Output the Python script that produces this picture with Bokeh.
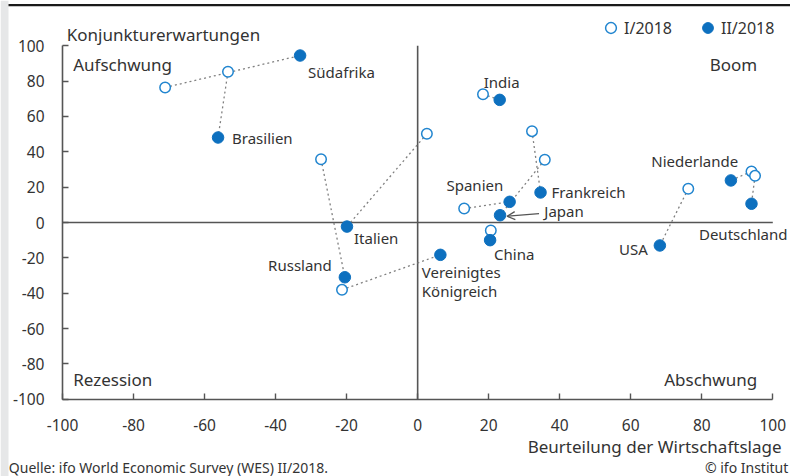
from bokeh.plotting import figure
from bokeh.models import (Label, Arrow, OpenHead, Legend, LegendItem, FixedTicker,
                          BoxAnnotation)
from bokeh.embed import file_html
from bokeh.resources import INLINE

# ---------------- data ----------------
countries = ["Südafrika", "Brasilien", "Russland", "Italien", "Vereinigtes Königreich",
             "India", "Frankreich", "Japan", "Spanien", "China", "USA",
             "Niederlande", "Deutschland"]
# I/2018
x_2018_1 = [-71.1, -53.4, -27.2, 2.6, -21.3, 18.4, 32.2, 35.8, 13.1, 20.6, 76.2, 94.0, 95.0]
y_2018_1 = [76.4, 85.3, 35.8, 50.2, -38.1, 72.6, 51.7, 35.5, 7.9, -4.5, 19.1, 28.9, 26.4]
# II/2018
x_2018_2 = [-33.1, -56.2, -20.5, -19.9, 6.4, 23.1, 34.6, 23.2, 25.9, 20.4, 68.2, 88.2, 94.0]
y_2018_2 = [94.5, 48.1, -31.0, -2.3, -18.3, 69.4, 17.0, 4.1, 11.7, -10.0, -13.0, 23.8, 10.6]

ticks = [-100, -80, -60, -40, -20, 0, 20, 40, 60, 80, 100]
series_labels = ["I/2018", "II/2018"]
x_title = "Beurteilung der Wirtschaftslage"
y_title = "Konjunkturerwartungen"
quadrants = ["Aufschwung", "Boom", "Rezession", "Abschwung"]
source_text = "Quelle: ifo World Economic Survey (WES) II/2018."
copyright_text = "© ifo Institut"

# ---------------- styles ----------------
FONT = "Noto Sans"
TXT = "#333333"
AX = "#555555"
BLUE_FILL = "#0d70bf"
BLUE_LINE = "#2185cf"
STRIP = "#e6e7e8"

# label placement relative to II/2018 point: (align, dx px, dy px up)
label_style = {
    "Südafrika": ("left", 8, -16),
    "Brasilien": ("left", 14, 0),
    "Russland": ("right", -13, 12),
    "Italien": ("left", 7, -11),
    "Vereinigtes Königreich": ("left", -18.6, -16.7),
    "India": ("center", 2, 18),
    "Frankreich": ("left", 11, 0),
    "Japan": ("left", 44.3, 4.4),
    "Spanien": ("right", -6.4, 17.3),
    "China": ("left", 4, -13.6),
    "USA": ("right", -12, -4),
    "Niederlande": ("right", 7.3, 19),
    "Deutschland": ("right", 36, -30),
}

W, H = 790, 476
# pixel geometry of the -100..100 box inside the canvas
LEFT, RIGHT, TOP, BOTTOM = 62.0, 772.3, 45.3, 398.7
span = ticks[-1] - ticks[0]
ux = span / (RIGHT - LEFT)
uy = span / (BOTTOM - TOP)
x_start = ticks[0] - LEFT * ux
x_end = ticks[-1] + (W - RIGHT) * ux
y_start = ticks[0] - (H - BOTTOM) * uy
y_end = ticks[-1] + TOP * uy

p = figure(width=W, height=H, x_range=(x_start, x_end), y_range=(y_start, y_end),
           output_backend="svg", toolbar_location=None, title=None, min_border=0)
p.grid.visible = False
p.outline_line_color = None

# left grey strip and top rule (page decoration)
p.add_layout(BoxAnnotation(left=x_start, right=x_start + 8 * ux, fill_color=STRIP,
                           fill_alpha=1, line_color=None, level="underlay"))
p.add_layout(BoxAnnotation(left=x_start + 8 * ux, top=y_end - 3.6 * uy,
                           bottom=y_end - 5.8 * uy, fill_color="#1a1a1a",
                           fill_alpha=1, line_color=None))

for ax in (p.xaxis[0], p.yaxis[0]):
    ax.fixed_location = ticks[0]
    ax.ticker = FixedTicker(ticks=ticks)
    ax.bounds = (ticks[0], ticks[-1])
    ax.major_label_overrides = {t: str(t) for t in ticks}
    ax.major_tick_in = 6
    ax.major_tick_out = 0
    ax.minor_tick_line_color = None
    ax.axis_line_color = AX
    ax.axis_line_width = 1.6
    ax.major_tick_line_color = AX
    ax.major_tick_line_width = 1.4
    ax.major_label_text_font = FONT
    ax.major_label_text_font_size = "15.5px"
    ax.major_label_text_color = TXT
p.xaxis[0].major_label_standoff = 20
p.yaxis[0].major_label_standoff = 18

# zero lines
p.segment(x0=[ticks[0], 0], y0=[0, ticks[0]], x1=[ticks[-1], 0], y1=[0, ticks[-1]],
          line_color=AX, line_width=1.6)

# connecting dotted lines
p.segment(x0=x_2018_1, y0=y_2018_1, x1=x_2018_2, y1=y_2018_2,
          line_color="#808080", line_width=1.3, line_dash="2 3")

r1 = p.scatter(x=x_2018_1, y=y_2018_1, size=10.5, marker="circle",
               fill_color="white", line_color=BLUE_LINE, line_width=1.5)
r2 = p.scatter(x=x_2018_2, y=y_2018_2, size=11.5, marker="circle",
               fill_color=BLUE_FILL, line_color=BLUE_FILL, line_width=1)


def lab(x, y, text, align="left", dx=0, dy=0, size="15px"):
    p.add_layout(Label(x=x, y=y, x_offset=dx, y_offset=dy, text=text,
                       text_align=align, text_baseline="middle",
                       text_font=FONT, text_font_size=size, text_color=TXT))


# country labels
for name, xv, yv in zip(countries, x_2018_2, y_2018_2):
    align, dx, dy = label_style[name]
    if name == "Vereinigtes Königreich":
        for i, part in enumerate(name.split(" ")):
            lab(xv, yv, part, align, dx, dy - 19.7 * i)
    else:
        lab(xv, yv, name, align, dx, dy)

# Japan arrow
ji = countries.index("Japan")
p.add_layout(Arrow(end=OpenHead(size=8, line_color=AX, line_width=1.3),
                   x_start=x_2018_2[ji] + 39 * ux, y_start=y_2018_2[ji] + 1.7 * uy,
                   x_end=x_2018_2[ji] + 7 * ux, y_end=y_2018_2[ji] - 1.0 * uy,
                   line_color=AX, line_width=1.3))

# quadrant labels
qpos = [(ticks[0], ticks[-1], "left", 10.7, -19), (ticks[-1], ticks[-1], "right", -15.6, -19),
        (ticks[0], ticks[0], "left", 10.7, 19.4), (ticks[-1], ticks[0], "right", -15.6, 19.4)]
for text, (xq, yq, al, dx, dy) in zip(quadrants, qpos):
    lab(xq, yq, text, al, dx, dy, "17px")

# axis titles
lab(ticks[0], ticks[-1], y_title, "left", 4.3, 11.3, "17px")
lab(ticks[-1], ticks[0], x_title, "right", 8.7, -47.3, "17px")

# footer
lab(ticks[0], ticks[0], source_text, "left", -53.7, -68, "14px")
lab(ticks[-1], ticks[0], copyright_text, "right", 15.5, -68, "14px")

# legend
legend = Legend(items=[LegendItem(label=series_labels[0], renderers=[r1]),
                       LegendItem(label=series_labels[1], renderers=[r2])],
                orientation="horizontal", location=(597, 435),
                glyph_width=27, glyph_height=27, label_standoff=-3, spacing=22,
                padding=0, margin=0, border_line_color=None,
                background_fill_alpha=0, label_text_font=FONT,
                label_text_font_size="16px", label_text_color=TXT,
                label_height=20)
p.add_layout(legend)

open("out.html", "w").write(file_html(p, INLINE))
